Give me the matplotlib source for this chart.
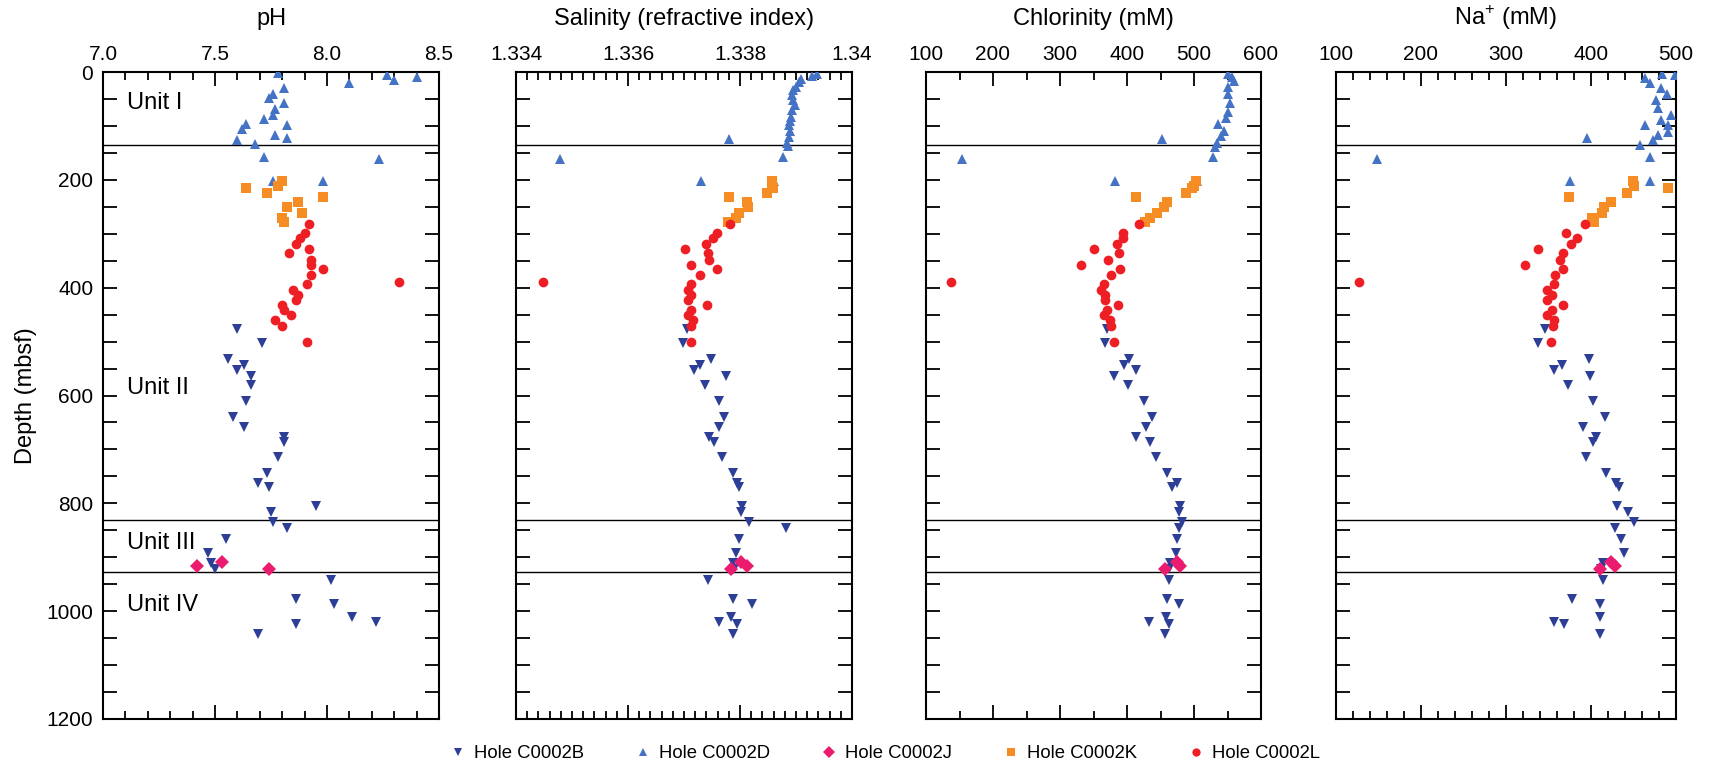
import numpy as np
import matplotlib.pyplot as plt
from matplotlib.ticker import MultipleLocator

plt.rcParams['font.family'] = ['Liberation Sans', 'DejaVu Sans']
plt.rcParams['mathtext.fontset'] = 'custom'
plt.rcParams['mathtext.rm'] = 'Liberation Sans'

# ---- sample depths (mbsf) ----
depth_b = [476, 503, 533, 543, 552, 563, 581, 610, 639, 658, 677, 686, 714, 743, 763, 769,
           805, 817, 835, 845, 867, 893, 911, 921, 942, 977, 986, 1010, 1021, 1024, 1043]
depth_j = [909, 916, 922]
depth_k = [203, 211, 216, 225, 232, 242, 251, 261, 270, 278]
depth_l = [282, 298, 308, 319, 328, 336, 348, 358, 366, 377, 389, 393, 404, 414, 423, 432,
           442, 451, 460, 472, 501]

# Hole C0002D depths differ a little between analyses
depth_d_ph = [2, 6, 10, 14, 20, 30, 41, 49, 58, 69, 79, 87, 97, 98, 106, 116, 122, 126, 134,
              157, 161, 202, 202]
depth_d_sal = [4, 7, 13, 19, 27, 33, 43, 52, 61, 71, 83, 90, 98, 109, 120, 125, 132, 137,
               158, 162, 202, 203]
depth_d_cl = [3, 9, 16, 27, 40, 58, 74, 86, 97, 109, 119, 125, 131, 139, 157, 162, 202, 202]
depth_d_na = [3, 5, 11, 20, 30, 40, 52, 67, 80, 89, 98, 98, 111, 117, 123, 126, 135, 157,
              162, 202, 202]

# ---- pH ----
ph_b = [7.60, 7.71, 7.56, 7.63, 7.60, 7.66, 7.66, 7.64, 7.58, 7.63, 7.81, 7.81, 7.78, 7.73,
        7.69, 7.74, 7.95, 7.75, 7.76, 7.82, 7.55, 7.47, 7.48, 7.50, 8.02, 7.86, 8.03, 8.11,
        8.22, 7.86, 7.69]
ph_d = [7.78, 8.27, 8.40, 8.30, 8.10, 7.81, 7.76, 7.74, 7.81, 7.77, 7.76, 7.72, 7.64, 7.82,
        7.62, 7.77, 7.82, 7.60, 7.68, 7.72, 8.23, 7.76, 7.98]
ph_j = [7.53, 7.42, 7.74]
ph_k = [7.80, 7.78, 7.64, 7.73, 7.98, 7.87, 7.82, 7.89, 7.80, 7.81]
ph_l = [7.92, 7.90, 7.88, 7.86, 7.92, 7.83, 7.93, 7.93, 7.98, 7.93, 8.32, 7.91, 7.85, 7.87,
        7.86, 7.80, 7.81, 7.84, 7.77, 7.80, 7.91]

# ---- salinity (refractive index) ----
sal_b = [1.33705, 1.33698, 1.33748, 1.33729, 1.33718, 1.33775, 1.33737, 1.33762, 1.33772,
         1.33762, 1.33745, 1.33754, 1.33768, 1.33787, 1.33794, 1.33799, 1.33803, 1.33802,
         1.33816, 1.33882, 1.33799, 1.33793, 1.33788, 1.33790, 1.33742, 1.33788, 1.33822,
         1.33784, 1.33763, 1.33794, 1.33788]
sal_d = [1.33937, 1.33928, 1.33909, 1.33905, 1.33900, 1.33895, 1.33893, 1.33895, 1.33899,
         1.33893, 1.33891, 1.33889, 1.33887, 1.33889, 1.33887, 1.33780, 1.33884, 1.33885,
         1.33876, 1.33479, 1.33730, 1.33861]
sal_j = [1.33802, 1.33812, 1.33784]
sal_k = [1.33857, 1.33858, 1.33859, 1.33848, 1.33781, 1.33812, 1.33814, 1.33799, 1.33793,
         1.33778]
sal_l = [1.33782, 1.33759, 1.33752, 1.33740, 1.33701, 1.33742, 1.33744, 1.33712, 1.33759,
         1.33729, 1.33449, 1.33712, 1.33708, 1.33713, 1.33708, 1.33741, 1.33713, 1.33708,
         1.33716, 1.33712, 1.33712]

# ---- chlorinity (mM) ----
cl_b = [370, 367, 403, 396, 414, 381, 402, 426, 438, 429, 413, 434, 443, 460, 474, 467, 479,
        477, 482, 478, 474, 473, 464, 462, 463, 460, 477, 458, 433, 463, 456]
cl_d = [550, 556, 559, 551, 551, 554, 551, 548, 536, 545, 541, 452, 534, 531, 529, 153, 382,
        504]
cl_j = [474, 479, 456]
cl_k = [503, 500, 497, 488, 414, 460, 455, 445, 434, 427]
cl_l = [418, 394, 394, 385, 350, 388, 372, 331, 389, 376, 137, 366, 361, 367, 367, 386, 370,
        366, 375, 376, 381]

# ---- sodium (mM) ----
na_b = [346, 338, 398, 366, 356, 399, 373, 402, 416, 391, 406, 402, 394, 418, 429, 433, 430,
        444, 451, 428, 435, 439, 414, 412, 414, 378, 410, 411, 356, 368, 410]
na_d = [484, 499, 464, 469, 482, 489, 477, 479, 494, 482, 464, 491, 491, 479, 395, 473, 458,
        469, 148, 375, 469]
na_j = [423, 428, 410]
na_k = [449, 450, 491, 442, 374, 423, 415, 413, 401, 403]
na_l = [393, 371, 384, 376, 338, 367, 364, 322, 367, 358, 127, 356, 348, 354, 348, 367, 354,
        348, 356, 355, 353]

unit_bounds = [135, 830, 928]
unit_names = ['Unit I', 'Unit II', 'Unit III', 'Unit IV']
unit_label_depths = [58, 586, 874, 989]

hole_names = ['Hole C0002B', 'Hole C0002D', 'Hole C0002J', 'Hole C0002K', 'Hole C0002L']
hole_styles = [
    dict(marker='v', color='#2D3E96', ms=7.4),
    dict(marker='^', color='#4472C4', ms=7.4),
    dict(marker='D', color='#EB1C70', ms=7.0),
    dict(marker='s', color='#F68C24', ms=7.0),
    dict(marker='o', color='#ED1E24', ms=7.0),
]

panels = [
    dict(title='pH', xlim=(7.0, 8.5), minor=0.1,
         ticklabels=['7.0', '7.5', '8.0', '8.5'],
         data=[(depth_b, ph_b), (depth_d_ph, ph_d), (depth_j, ph_j), (depth_k, ph_k),
               (depth_l, ph_l)],
         left=103, width=336),
    dict(title='Salinity (refractive index)', xlim=(1.334, 1.340), minor=0.0002,
         ticklabels=['1.334', '1.336', '1.338', '1.34'],
         data=[(depth_b, sal_b), (depth_d_sal, sal_d), (depth_j, sal_j), (depth_k, sal_k),
               (depth_l, sal_l)],
         left=516, width=336),
    dict(title='Chlorinity (mM)', xlim=(100, 600), minor=50,
         ticklabels=['100', '200', '300', '400', '500', '600'],
         data=[(depth_b, cl_b), (depth_d_cl, cl_d), (depth_j, cl_j), (depth_k, cl_k),
               (depth_l, cl_l)],
         left=926, width=335),
    dict(title='Na$^{+}$ (mM)', xlim=(100, 500), minor=20,
         ticklabels=['100', '200', '300', '400', '500'],
         data=[(depth_b, na_b), (depth_d_na, na_d), (depth_j, na_j), (depth_k, na_k),
               (depth_l, na_l)],
         left=1336, width=340),
]

W, H = 1709, 769
fig = plt.figure(figsize=(W / 100, H / 100), dpi=100, facecolor='white')

handles = []
for i, p in enumerate(panels):
    ax = fig.add_axes([p['left'] / W, 50 / H, p['width'] / W, 647 / H])

    for (dep, val), st in zip(p['data'], hole_styles):
        ln, = ax.plot(val, dep, linestyle='none', marker=st['marker'], color=st['color'],
                      markersize=st['ms'], markeredgewidth=0, zorder=3)
        if i == 0:
            handles.append(ln)

    for b in unit_bounds:
        ax.axhline(b, color='black', lw=1.0, zorder=2)

    ax.set_xlim(*p['xlim'])
    ax.set_ylim(1200, 0)

    ax.set_xticks(np.linspace(p['xlim'][0], p['xlim'][1], len(p['ticklabels'])))
    ax.set_xticklabels(p['ticklabels'])
    ax.xaxis.set_minor_locator(MultipleLocator(p['minor']))
    ax.yaxis.set_major_locator(MultipleLocator(200))
    ax.yaxis.set_minor_locator(MultipleLocator(50))

    ax.tick_params(axis='x', which='both', direction='in', top=True, bottom=True,
                   labeltop=True, labelbottom=False, width=1.3, labelsize=15, pad=6)
    ax.tick_params(axis='x', which='major', length=10)
    ax.tick_params(axis='x', which='minor', length=5.5)
    ax.tick_params(axis='y', which='both', direction='in', left=True, right=True,
                   length=10, width=1.3, labelsize=15, pad=7, labelleft=(i == 0))
    for sp in ax.spines.values():
        sp.set_linewidth(1.5)

    ax.text(0.5, 1 + 47 / 647, p['title'], transform=ax.transAxes, ha='center',
            va='baseline', fontsize=17)

    if i == 0:
        for name, d in zip(unit_names, unit_label_depths):
            ax.text(7.107, d, name, ha='left', va='center', fontsize=17)

fig.text(26 / W, 1 - 396 / H, 'Depth (mbsf)', rotation=90, ha='center', va='center',
         fontsize=17)

fig.legend(handles, hole_names, loc='center', bbox_to_anchor=(884 / W, 1 - 754 / H),
           ncol=5, frameon=False, fontsize=13.3, handlelength=1.0, handletextpad=0.36,
           columnspacing=2.7, markerscale=0.85, borderpad=0)

fig.savefig('out.png', dpi=100, facecolor='white')
